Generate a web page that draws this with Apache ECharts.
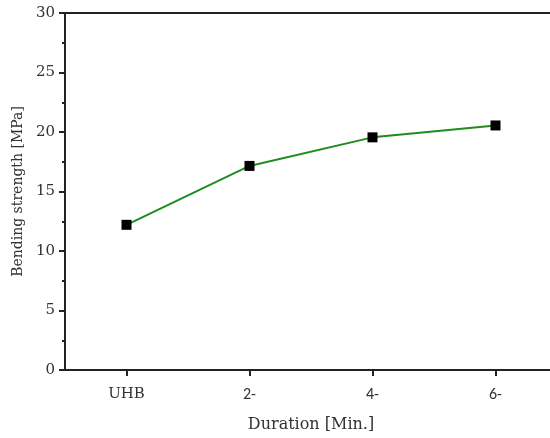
<!DOCTYPE html>
<html><head><meta charset="utf-8">
<script src="https://cdn.jsdelivr.net/npm/echarts@6/dist/echarts.min.js"></script>
<style>html,body{margin:0;padding:0;background:#fff}#wrap{position:relative;width:550px;height:438px;overflow:hidden}#c{width:562px;height:438px}</style>
</head><body><div id="wrap"><div id="c"></div></div>
<script>
const categories = ['UHB', '2-', '4-', '6-'];
const strength = [12.2, 17.15, 19.55, 20.55];
const yTicks = [0, 5, 10, 15, 20, 25, 30];

const chart = echarts.init(document.getElementById('c'));
const serif = '"Book Antiqua", Palatino, "DejaVu Serif", serif';
chart.setOption({
  animation: false,
  grid: { left: 65, top: 13, right: 5, height: 361, show: false },
  xAxis: [{
    type: 'category', data: categories, boundaryGap: true,
    axisLine: { lineStyle: { color: '#222', width: 2 } },
    axisTick: { show: true, alignWithLabel: true, inside: false, length: 6, lineStyle: { color: '#222', width: 2 } },
    axisLabel: {
      margin: 17, fontSize: 15, color: '#333', fontFamily: serif,
      formatter: v => v.endsWith('-') ? '{s|' + v + '}' : v,
      rich: { s: { fontFamily: 'Carlito, "Open Sans", sans-serif', fontSize: 16, color: '#333' } }
    },
    name: 'Duration [Min.]', nameLocation: 'middle', nameGap: 47,
    nameTextStyle: { fontSize: 16, color: '#333', fontFamily: serif }
  }, {
    type: 'category', data: categories, boundaryGap: true, position: 'top',
    axisLine: { show: true, lineStyle: { color: '#222', width: 2 } },
    axisTick: { show: false }, axisLabel: { show: false }
  }],
  yAxis: {
    type: 'value', min: yTicks[0], max: yTicks[yTicks.length - 1], interval: 5,
    splitLine: { show: false },
    axisLine: { show: true, lineStyle: { color: '#222', width: 2 } },
    axisTick: { show: true, inside: false, length: 6, lineStyle: { color: '#222', width: 2 } },
    minorTick: { show: true, splitNumber: 2, length: 3, lineStyle: { color: '#222', width: 2 } },
    axisLabel: { margin: 10, fontSize: 15, color: '#333', fontFamily: serif },
    name: 'Bending strength [MPa]', nameLocation: 'middle', nameGap: 36,
    nameTextStyle: { fontSize: 14, color: '#333', fontFamily: serif }
  },
  series: [{
    type: 'line', data: strength,
    symbol: 'rect', symbolSize: 10,
    itemStyle: { color: '#000' },
    lineStyle: { color: '#1e8c1e', width: 2 }
  }]
});
</script></body></html>
